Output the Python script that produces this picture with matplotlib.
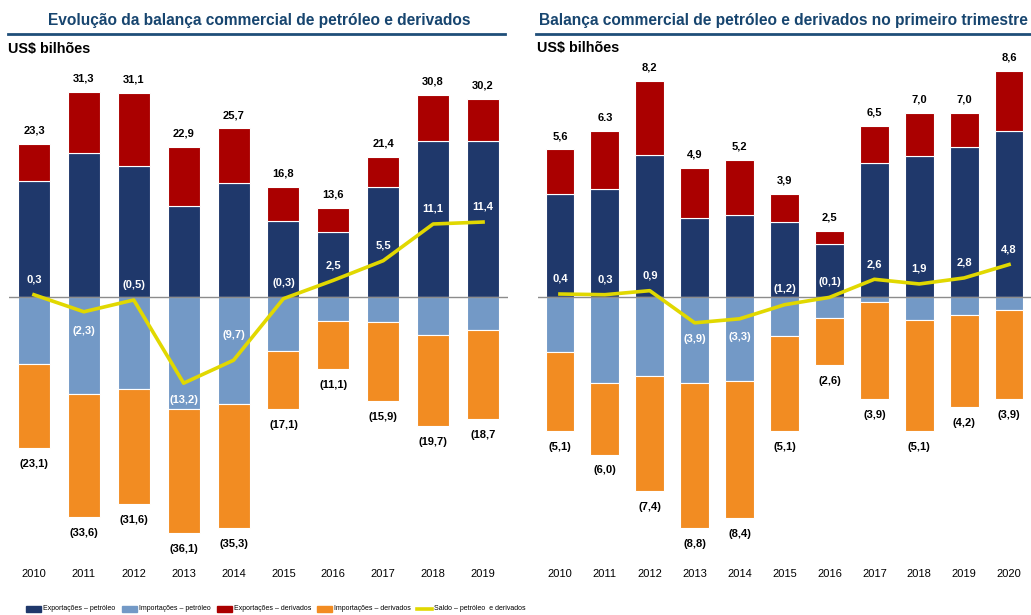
import matplotlib
matplotlib.use('Agg')
import matplotlib.pyplot as plt
from matplotlib.patches import Rectangle
from matplotlib.lines import Line2D

plt.rcParams['font.family'] = ['Liberation Sans', 'DejaVu Sans']

# anual, US$ bilhoes
years_l = ['2010', '2011', '2012', '2013', '2014', '2015', '2016', '2017', '2018', '2019']
exp_tot_l = [23.3, 31.3, 31.1, 22.9, 25.7, 16.8, 13.6, 21.4, 30.8, 30.2]
exp_oil_l = [17.6, 22.0, 20.0, 13.9, 17.3, 11.5, 9.9, 16.8, 23.8, 23.8]
imp_tot_l = [23.1, 33.6, 31.6, 36.1, 35.3, 17.1, 11.1, 15.9, 19.7, 18.7]
imp_oil_l = [10.2, 14.9, 14.1, 17.1, 16.4, 8.3, 3.7, 3.9, 5.8, 5.1]
saldo_l = [0.3, -2.3, -0.5, -13.2, -9.7, -0.3, 2.5, 5.5, 11.1, 11.4]

# primeiro trimestre, US$ bilhoes
years_r = ['2010', '2011', '2012', '2013', '2014', '2015', '2016', '2017', '2018', '2019', '2020']
exp_tot_r = [5.6, 6.3, 8.2, 4.9, 5.2, 3.9, 2.5, 6.5, 7.0, 7.0, 8.6]
exp_oil_r = [3.9, 4.1, 5.4, 3.0, 3.1, 2.85, 2.0, 5.1, 5.35, 5.7, 6.3]
imp_tot_r = [5.1, 6.0, 7.4, 8.8, 8.4, 5.1, 2.6, 3.9, 5.1, 4.2, 3.9]
imp_oil_r = [2.1, 3.3, 3.0, 3.3, 3.2, 1.5, 0.8, 0.2, 0.9, 0.7, 0.5]
saldo_r = [0.4, 0.3, 0.9, -3.9, -3.3, -1.2, -0.1, 2.6, 1.9, 2.8, 4.8]

# vertical offset (pt) of the saldo labels
saldo_off_l = [11, -14, 11, -12, 18, 11, 11, 11, 11, 11]
saldo_off_r = [11, 11, 11, -12, -13, 11, 11, 11, 11, 11, 11]

NAVY = '#1f386b'
LBLUE = '#7399c6'
RED = '#aa0000'
ORANGE = '#f28c22'
YELLOW = '#e1d800'
TITLE = '#17456f'


def fmt(v):
    s = ('%.1f' % abs(v)).replace('.', ',')
    return '(%s)' % s if v < 0 else s


def panel(ax, years, exp_tot, exp_oil, imp_tot, imp_oil, saldo, offs, lax, top_txt, bot_txt):
    x = list(range(len(years)))
    exp_der = [t - o for t, o in zip(exp_tot, exp_oil)]
    imp_der = [t - o for t, o in zip(imp_tot, imp_oil)]
    neg_oil = [-v for v in imp_oil]
    neg_der = [-v for v in imp_der]
    kw = dict(width=0.64, edgecolor='white', linewidth=0.8, zorder=2)
    ax.bar(x, exp_oil, color=NAVY, **kw)
    ax.bar(x, exp_der, bottom=exp_oil, color=RED, **kw)
    ax.bar(x, neg_oil, color=LBLUE, **kw)
    ax.bar(x, neg_der, bottom=neg_oil, color=ORANGE, **kw)
    ax.axhline(0, color='#8c8c8c', linewidth=1.0, zorder=3)
    lax.plot(x, saldo, color=YELLOW, linewidth=2.6, zorder=4)

    for i in x:
        ax.annotate(top_txt[i], (i, exp_tot[i]), xytext=(0, 9.5), textcoords='offset points',
                    ha='center', va='center', fontsize=8, fontweight='bold', color='black')
        ax.annotate(bot_txt[i], (i, -imp_tot[i]), xytext=(0, -11.5), textcoords='offset points',
                    ha='center', va='center', fontsize=8, fontweight='bold', color='black')
        lax.annotate(fmt(saldo[i]), (i, saldo[i]), xytext=(0, offs[i]), textcoords='offset points',
                     ha='center', va='center', fontsize=8, fontweight='bold', color='white',
                     zorder=5)

    ax.set_xlim(-0.5, len(years) - 0.5)
    ax.set_xticks(x)
    ax.set_xticklabels(years, fontsize=8)
    ax.tick_params(axis='x', length=0, pad=3)
    ax.set_yticks([])
    for s in ax.spines.values():
        s.set_visible(False)
    ax.patch.set_visible(False)


fig = plt.figure(figsize=(10.31, 6.15), dpi=100)
W, H = 1031.0, 615.0

axL = fig.add_axes([9 / W, 50 / H, 499 / W, 525 / H])
axL.set_ylim(-(565 - 296.7) / 6.55, (296.7 - 40) / 6.55)
bot_l = [fmt(-v) for v in imp_tot_l]
bot_l[-1] = bot_l[-1].rstrip(')')
panel(axL, years_l, exp_tot_l, exp_oil_l, imp_tot_l, imp_oil_l, saldo_l, saldo_off_l, axL,
      [fmt(v) for v in exp_tot_l], bot_l)

axR = fig.add_axes([537.5 / W, 50 / H, 494 / W, 525 / H])
axR.set_ylim(-(565 - 296.7) / 26.3, (296.7 - 40) / 26.3)
# saldo on its own scale
axR2 = axR.twinx()
axR2.set_ylim(-(565 - 296.7) / 6.7, (296.7 - 40) / 6.7)
axR2.axis('off')
top_r = [fmt(v) for v in exp_tot_r]
top_r[1] = top_r[1].replace(',', '.')
panel(axR, years_r, exp_tot_r, exp_oil_r, imp_tot_r, imp_oil_r, saldo_r, saldo_off_r, axR2,
      top_r, [fmt(-v) for v in imp_tot_r])

# titles and rules
fig.text(259 / W, 1 - 20 / H, 'Evolução da balança commercial de petróleo e derivados',
         ha='center', va='center', fontsize=11.2, fontweight='bold', color=TITLE)
fig.text(539 / W, 1 - 20 / H, 'Balança commercial de petróleo e derivados no primeiro trimestre',
         ha='left', va='center', fontsize=11.2, fontweight='bold', color=TITLE)
fig.add_artist(Line2D([8 / W, 505 / W], [1 - 34 / H, 1 - 34 / H], color='#1f4e79', linewidth=2))
fig.add_artist(Line2D([536 / W, 1.0], [1 - 34 / H, 1 - 34 / H], color='#1f4e79', linewidth=2))
fig.text(8 / W, 1 - 49 / H, 'US$ bilhões', ha='left', va='center', fontsize=10.4, fontweight='bold')
fig.text(537 / W, 1 - 48 / H, 'US$ bilhões', ha='left', va='center', fontsize=10.4, fontweight='bold')

# legend along the bottom
leg_colors = [NAVY, LBLUE, RED, ORANGE, YELLOW]
leg_labels = ['Exportações – petróleo', 'Importações – petróleo', 'Exportações – derivados',
              'Importações – derivados', 'Saldo – petróleo  e derivados']
leg_x = [26, 122, 217, 317, 417]
ly = 1 - 609 / H
for c, lab, lx in zip(leg_colors, leg_labels, leg_x):
    if c == YELLOW:
        fig.add_artist(Line2D([lx / W, (lx + 15) / W], [ly, ly], color=c, linewidth=2.6))
    else:
        fig.add_artist(Rectangle((lx / W, ly - 3 / H), 15 / W, 6 / H, color=c,
                                 transform=fig.transFigure))
    fig.text((lx + 17) / W, ly, lab, ha='left', va='center', fontsize=5.0,
             family=['Liberation Sans Narrow', 'Liberation Sans'])

fig.savefig('out.png', dpi=100)
